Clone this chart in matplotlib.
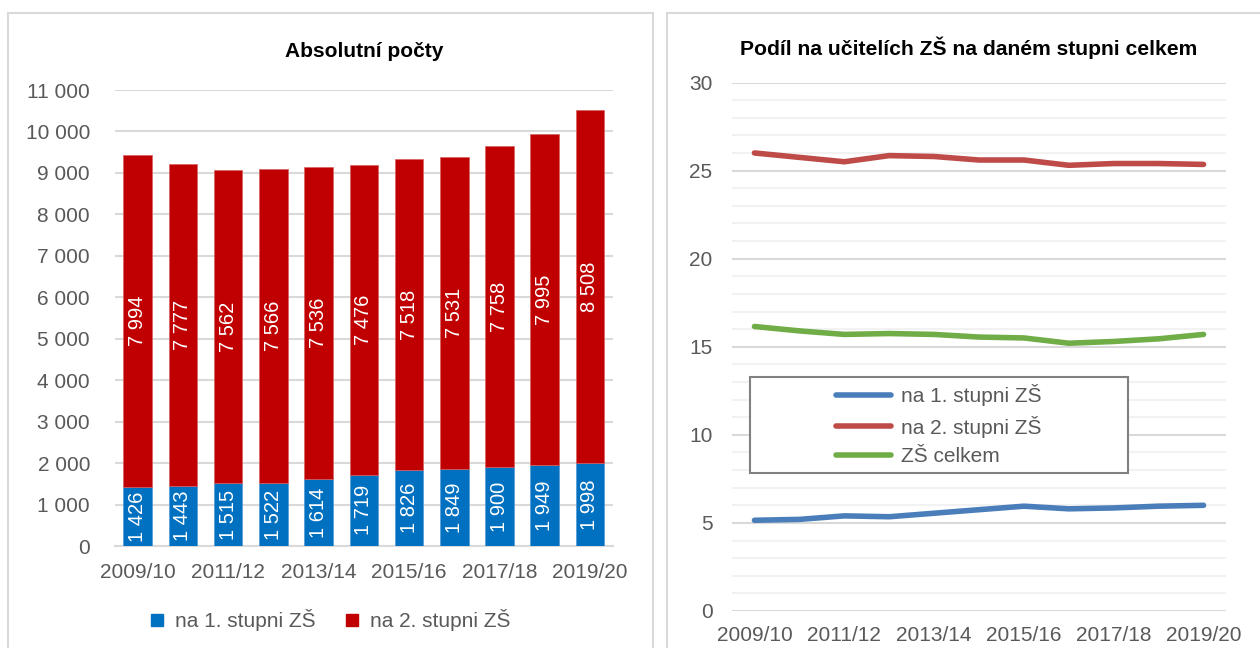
import matplotlib as mpl
mpl.use('Agg')
import matplotlib.pyplot as plt
from matplotlib.patches import Rectangle
from matplotlib.lines import Line2D
from matplotlib.ticker import FuncFormatter, MultipleLocator

plt.rcParams['font.family'] = ['Liberation Sans', 'DejaVu Sans']

# data
years = ['2009/10', '2010/11', '2011/12', '2012/13', '2013/14', '2014/15',
         '2015/16', '2016/17', '2017/18', '2018/19', '2019/20']
stupen1 = [1426, 1443, 1515, 1522, 1614, 1719, 1826, 1849, 1900, 1949, 1998]
stupen2 = [7994, 7777, 7562, 7566, 7536, 7476, 7518, 7531, 7758, 7995, 8508]
podil1 = [5.15, 5.2, 5.4, 5.35, 5.55, 5.75, 5.95, 5.8, 5.85, 5.95, 6.0]
podil2 = [26.0, 25.75, 25.5, 25.85, 25.8, 25.6, 25.6, 25.3, 25.4, 25.4, 25.35]
podil_celkem = [16.15, 15.9, 15.7, 15.75, 15.7, 15.55, 15.5, 15.2, 15.3,
                15.45, 15.7]
names = ['na 1. stupni ZŠ', 'na 2. stupni ZŠ', 'ZŠ celkem']

W, H = 1260.0, 648.0
grey_txt = '#595959'
grid_major = '#D9D9D9'
grid_minor = '#F2F2F2'


def spaced(v, pos=None):
    return '{:,}'.format(int(round(v))).replace(',', ' ')


fig = plt.figure(figsize=(12.6, 6.48), dpi=100)

# panel borders
for x0, x1 in [(8, 653), (667, 1275)]:
    fig.patches.append(Rectangle((x0 / W, -0.1), (x1 - x0) / W,
                                 (H - 13) / H + 0.1, transform=fig.transFigure,
                                 fill=False, edgecolor=grid_major, lw=1.5))

# left: absolute counts
ax1 = fig.add_axes([115 / W, (H - 546) / H, (612.6 - 115) / W, 456 / H])
x = list(range(len(years)))
b1 = ax1.bar(x, stupen1, width=0.63, color='#0070C0', edgecolor='#4F9BD9',
             lw=0.5, zorder=3)
b2 = ax1.bar(x, stupen2, width=0.63, bottom=stupen1, color='#C00000',
             edgecolor='#D96060', lw=0.5, zorder=3)
for i in x:
    ax1.text(i, stupen1[i] / 2.0, spaced(stupen1[i]), rotation=90,
             ha='center', va='center', color='white', fontsize=14.5, zorder=4)
    ax1.text(i, stupen1[i] + stupen2[i] / 2.0, spaced(stupen2[i]),
             rotation=90, ha='center', va='center', color='white',
             fontsize=14.5, zorder=4)
ax1.set_xlim(-0.5, len(years) - 0.5)
ax1.set_ylim(0, 11000)
ax1.yaxis.set_major_locator(MultipleLocator(1000))
ax1.yaxis.set_major_formatter(FuncFormatter(spaced))
ax1.set_xticks(x[::2])
ax1.set_xticklabels(years[::2])
ax1.grid(axis='y', color=grid_major, lw=1.5, zorder=0)
for s in ['top', 'right', 'left']:
    ax1.spines[s].set_visible(False)
ax1.spines['bottom'].set_color(grid_major)
ax1.spines['bottom'].set_linewidth(1.5)
ax1.tick_params(length=0, labelsize=15, colors=grey_txt)
ax1.tick_params(axis='y', pad=18)
ax1.tick_params(axis='x', pad=12)
ax1.set_title('Absolutní počty', fontsize=15, fontweight='bold', pad=24)
h1 = [Line2D([], [], ls='', marker='s', ms=8, color='#0070C0'),
      Line2D([], [], ls='', marker='s', ms=8, color='#C00000')]
fig.legend(h1, names[:2], loc='center', bbox_to_anchor=(330 / W, 1 - 620 / H),
           ncol=2, frameon=False, fontsize=15, labelcolor=grey_txt,
           handlelength=0.7, handletextpad=0.5, columnspacing=1.4)

# right: shares
ax2 = fig.add_axes([732 / W, (H - 611) / H, 494 / W, 528.5 / H])
cols = ['#4A7EBB', '#BE4B48', '#70AD47']
for vals, c, n in zip([podil1, podil2, podil_celkem], cols, names):
    ax2.plot(x, vals, color=c, lw=4, solid_capstyle='round', label=n,
             zorder=3)
ax2.set_xlim(-0.5, len(years) - 0.5)
ax2.set_ylim(0, 30)
ax2.yaxis.set_major_locator(MultipleLocator(5))
ax2.yaxis.set_minor_locator(MultipleLocator(1))
ax2.set_xticks(x[::2])
ax2.set_xticklabels(years[::2])
ax2.grid(axis='y', which='major', color=grid_major, lw=1.5, zorder=0)
ax2.grid(axis='y', which='minor', color=grid_minor, lw=1.5, zorder=0)
for s in ax2.spines.values():
    s.set_visible(False)
ax2.tick_params(which='both', length=0, labelsize=15, colors=grey_txt)
ax2.tick_params(axis='y', pad=14)
ax2.tick_params(axis='x', pad=11)
ax2.set_title('Podíl na učitelích ZŠ na daném stupni celkem', fontsize=15.2,
              fontweight='bold', pad=20, x=0.48)
box = Rectangle((18 / 494, 138 / 528.5), 378 / 494, 96 / 528.5,
                transform=ax2.transAxes, facecolor='white',
                edgecolor='#808080', lw=1.5, zorder=5)
ax2.add_patch(box)
leg = ax2.legend(loc='center', bbox_to_anchor=((18 + 189) / 494,
                                               (138 + 48) / 528.5),
                 frameon=False, fontsize=15, labelcolor=grey_txt,
                 handlelength=2.6, handletextpad=0.5, labelspacing=0.45)
leg.set_zorder(6)

plt.savefig('out.png', dpi=100)
